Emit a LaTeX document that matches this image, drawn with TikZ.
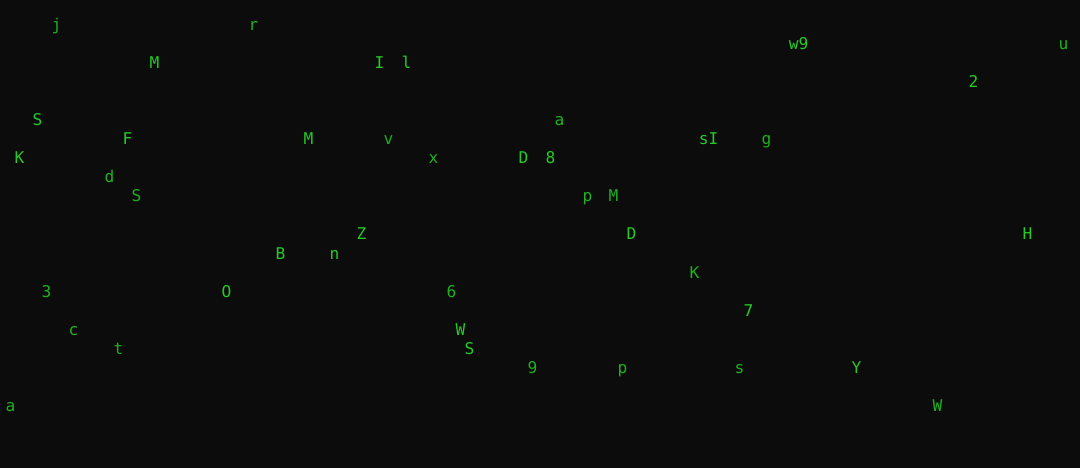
\documentclass[tikz,border=0pt]{standalone}
\usepackage{fontspec}
\setmonofont{DejaVu Sans Mono}
\definecolor{bgc}{RGB}{12,12,12}
\definecolor{gbright}{RGB}{36,204,36}
\definecolor{gdim}{RGB}{30,176,30}
\tikzset{
  ch/.style={inner sep=0pt, anchor=base, font=\ttfamily\fontsize{16.2}{17}\selectfont, text=gbright},
  chd/.style={ch, text=gdim}
}
\begin{document}
\begin{tikzpicture}[x=1pt,y=-1pt]
\fill[bgc] (0,0) rectangle (1080,468);
\useasboundingbox (0,0) rectangle (1080,468);
\begin{scope}[shift={(0.5,1)}]
% row baselines: 11 + 19*r
\node[chd] (c1) at (56,30) {j};
\node[chd] (c2) at (253,30) {r};
\node[ch] (c3) at (154,68) {M};
\node[ch] (c4) at (379,68) {I};
\node[ch] (c5) at (406,68) {l};
\node[ch] (c6) at (798,49) {w9};
\node[chd] (c7) at (1063,49) {u};
\node[ch] (c8) at (973,87) {2};
\node[ch] (c9) at (37,125) {S};
\node[chd] (c10) at (559,125) {a};
\node[ch] (c11) at (127,144) {F};
\node[ch] (c12) at (308,144) {M};
\node[chd] (c13) at (388,144) {v};
\node[ch] (c14) at (708,144) {sI};
\node[chd] (c15) at (766,144) {g};
\node[ch] (c16) at (19,163) {K};
\node[chd] (c17) at (433,163) {x};
\node[ch] (c18) at (523,163) {D};
\node[ch] (c19) at (550,163) {8};
\node[chd] (c20) at (109,182) {d};
\node[chd] (c21) at (136,201) {S};
\node[chd] (c22) at (587,201) {p};
\node[chd] (c23) at (613,201) {M};
\node[ch] (c24) at (361,239) {Z};
\node[ch] (c25) at (631,239) {D};
\node[ch] (c26) at (1027,239) {H};
\node[ch] (c27) at (280,258) {B};
\node[ch] (c28) at (334,258) {n};
\node[chd] (c29) at (694,277) {K};
\node[chd] (c30) at (46,296) {3};
\node[ch] (c31) at (226,296) {O};
\node[chd] (c32) at (451,296) {6};
\node[ch] (c33) at (748,315) {7};
\node[chd] (c34) at (73,334) {c};
\node[ch] (c35) at (460,334) {W};
\node[chd] (c36) at (118,353) {t};
\node[ch] (c37) at (469,353) {S};
\node[chd] (c38) at (532,372) {9};
\node[chd] (c39) at (622,372) {p};
\node[chd] (c40) at (739,372) {s};
\node[ch] (c41) at (856,372) {Y};
\node[chd] (c42) at (10,410) {a};
\node[chd] (c43) at (937,410) {W};
\end{scope}
\end{tikzpicture}
\end{document}
